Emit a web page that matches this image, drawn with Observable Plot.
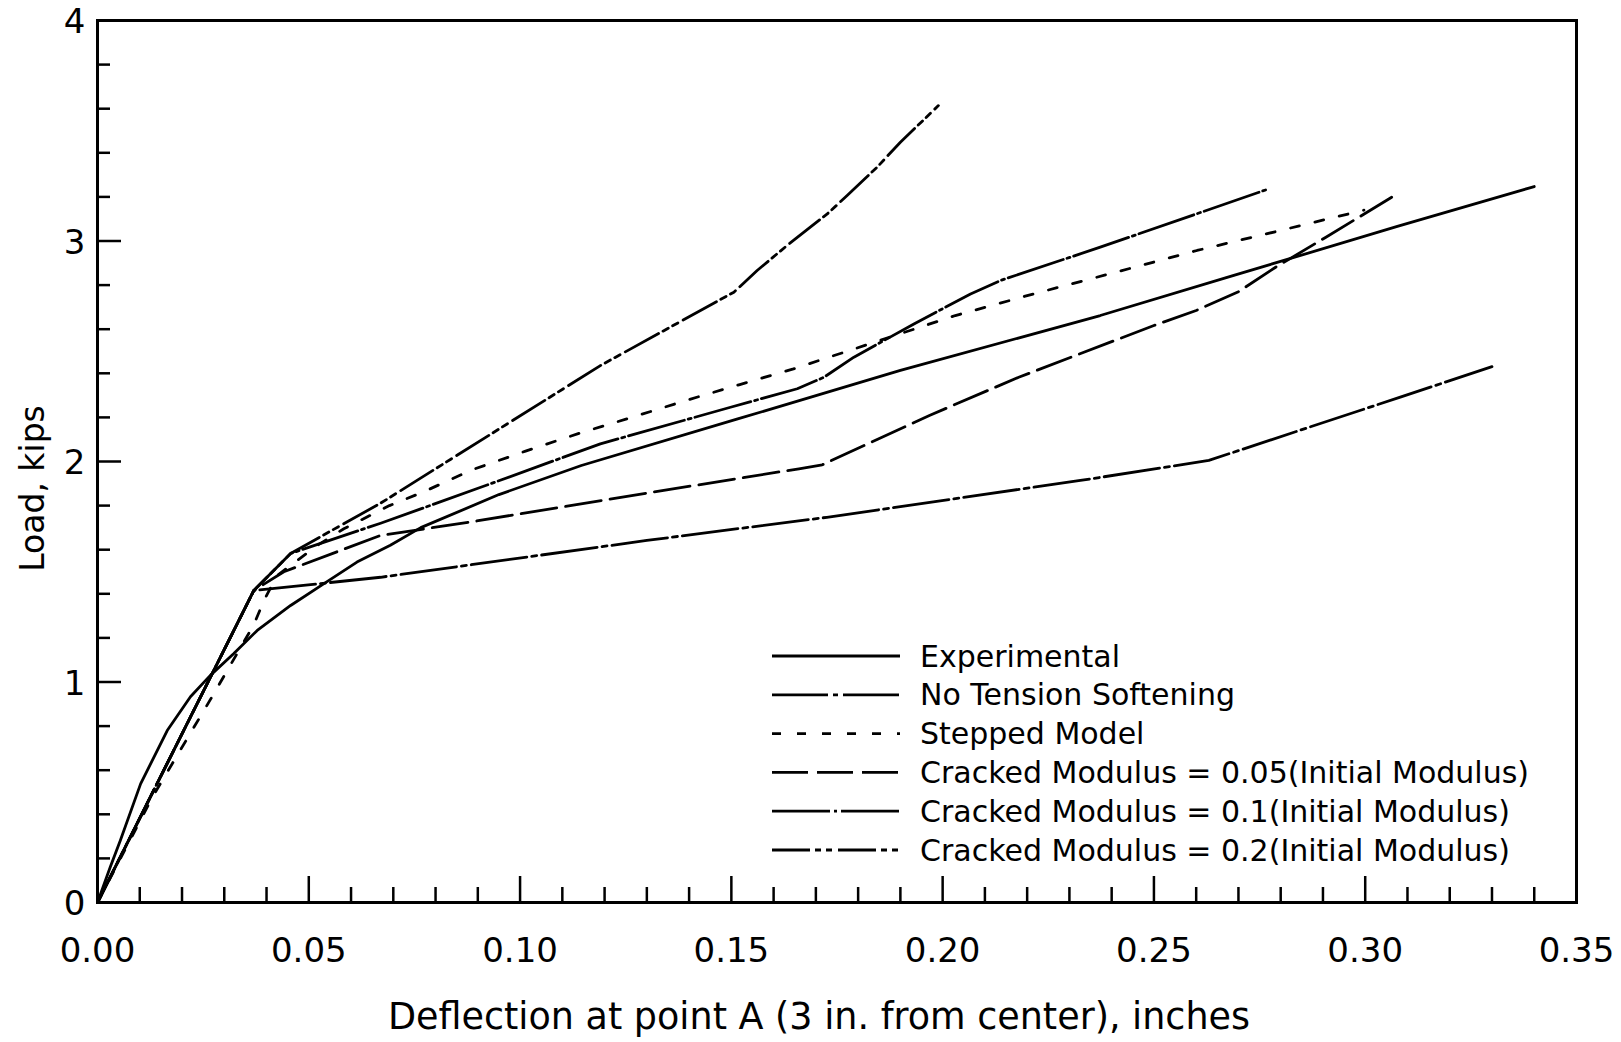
<!DOCTYPE html>
<html>
<head>
<meta charset="utf-8">
<script src="https://cdn.jsdelivr.net/npm/d3@7"></script>
<script src="https://cdn.jsdelivr.net/npm/@observablehq/plot@0.6"></script>
<style>
  html, body { margin: 0; padding: 0; background: #fff; }
  svg { display: block; }
</style>
</head>
<body>
<div id="chart"></div>
<script>
// ---------------- data ----------------
const seriesNames = [
  "Experimental",
  "No Tension Softening",
  "Stepped Model",
  "Cracked Modulus = 0.05(Initial Modulus)",
  "Cracked Modulus = 0.1(Initial Modulus)",
  "Cracked Modulus = 0.2(Initial Modulus)"
];

const experimentalX = [0, 0.003, 0.0054, 0.0102, 0.0165, 0.022, 0.0267, 0.0322, 0.0378, 0.0457, 0.0536, 0.0614, 0.0693, 0.0765, 0.095, 0.1145, 0.1515, 0.19, 0.2373, 0.2689, 0.3076, 0.34];
const experimentalY = [0, 0.16, 0.281, 0.538, 0.78, 0.933, 1.03, 1.128, 1.234, 1.347, 1.446, 1.544, 1.62, 1.70, 1.85, 1.982, 2.193, 2.413, 2.662, 2.844, 3.066, 3.247];

const noTensionX = [0, 0.037, 0.067, 0.13, 0.1726, 0.2326, 0.263, 0.3083, 0.33];
const noTensionY = [0, 1.415, 1.475, 1.642, 1.747, 1.914, 2.005, 2.292, 2.43];

const steppedX = [0, 0.013, 0.0267, 0.037, 0.0394, 0.0425, 0.052, 0.0583, 0.0691, 0.077, 0.0886, 0.1013, 0.114, 0.1266, 0.1393, 0.152, 0.1647, 0.1774, 0.203, 0.2215, 0.2405, 0.2602, 0.28, 0.2997];
const steppedY = [0, 0.478, 0.92, 1.26, 1.37, 1.483, 1.619, 1.695, 1.80, 1.861, 1.962, 2.047, 2.128, 2.201, 2.277, 2.349, 2.42, 2.50, 2.662, 2.76, 2.856, 2.957, 3.048, 3.14];

const cracked005X = [0, 0.037, 0.0441, 0.067, 0.0881, 0.1304, 0.166, 0.1715, 0.197, 0.218, 0.25, 0.26, 0.27, 0.2788, 0.2907, 0.3076];
const cracked005Y = [0, 1.415, 1.50, 1.665, 1.725, 1.858, 1.967, 1.985, 2.21, 2.382, 2.617, 2.685, 2.77, 2.881, 3.017, 3.214];

const cracked01X = [0, 0.037, 0.0457, 0.067, 0.0907, 0.119, 0.1498, 0.1656, 0.1719, 0.179, 0.1932, 0.2066, 0.2137, 0.2373, 0.2765];
const cracked01Y = [0, 1.415, 1.583, 1.720, 1.883, 2.08, 2.246, 2.33, 2.382, 2.473, 2.624, 2.76, 2.821, 2.972, 3.232];

const cracked02X = [0, 0.037, 0.0457, 0.067, 0.119, 0.1506, 0.1561, 0.1632, 0.1727, 0.1774, 0.1845, 0.19, 0.199];
const cracked02Y = [0, 1.415, 1.583, 1.811, 2.435, 2.768, 2.866, 2.98, 3.123, 3.206, 3.335, 3.448, 3.614];

const xTickValues = [0, 0.05, 0.10, 0.15, 0.20, 0.25, 0.30, 0.35];
const xTickLabels = ["0.00", "0.05", "0.10", "0.15", "0.20", "0.25", "0.30", "0.35"];
const yTickValues = [0, 1, 2, 3, 4];
const yTickLabels = ["0", "1", "2", "3", "4"];

const xTitle = "Deflection at point A (3 in. from center), inches";
const yTitle = "Load, kips";

// ---------------- styles ----------------
const dashes = [
  null,              // solid
  "56,5,5,5",        // long dash + dot
  "9,16",            // short dashes
  "36,9",            // long dashes
  "58,4,3,4",        // very long dash + dot
  "38,5,6,5,6,6"     // long dash + two short
];

const seriesX = [experimentalX, noTensionX, steppedX, cracked005X, cracked01X, cracked02X];
const seriesY = [experimentalY, noTensionY, steppedY, cracked005Y, cracked01Y, cracked02Y];

const rows = seriesNames.flatMap((name, k) =>
  seriesX[k].map((x, i) => ({series: name, x, y: seriesY[k][i]})));

const W = 1621, H = 1042;
const mL = 97, mR = 45, mT = 20, mB = 140;
const plotW = W - mL - mR, plotH = H - mT - mB;
const FONT = "DejaVu Sans";
const LW = 2.8;

const xMinor = d3.range(1, 35).filter(i => i % 5 !== 0).map(i => i / 100);
const xMajor = xTickValues.slice(1, -1);
const yMinor = d3.range(1, 20).filter(i => i % 5 !== 0).map(i => i / 5);
const yMajor = yTickValues.slice(1, -1);

const lineMarks = seriesNames.map((name, k) =>
  Plot.line(rows.filter(r => r.series === name), {
    x: "x", y: "y", stroke: "black", strokeWidth: LW,
    strokeDasharray: dashes[k] || undefined, strokeLinejoin: "round"
  }));

const chart = Plot.plot({
  width: W, height: H,
  marginLeft: mL, marginRight: mR, marginTop: mT, marginBottom: mB,
  style: {fontFamily: FONT, background: "white", color: "black"},
  x: {domain: [0, 0.35], axis: null},
  y: {domain: [0, 4], axis: null},
  marks: [
    ...lineMarks,
    Plot.ruleX(xMinor, {x: d => d, insetTop: plotH - 15, stroke: "black", strokeWidth: 2.5}),
    Plot.ruleX(xMajor, {x: d => d, insetTop: plotH - 26, stroke: "black", strokeWidth: 2.5}),
    Plot.ruleY(yMinor, {y: d => d, insetRight: plotW - 13, stroke: "black", strokeWidth: 2.5}),
    Plot.ruleY(yMajor, {y: d => d, insetRight: plotW - 24, stroke: "black", strokeWidth: 2.5}),
    Plot.frame({stroke: "black", strokeWidth: 3}),
    Plot.text(xTickValues, {x: d => d, y: 0, dy: 49, text: (d, i) => xTickLabels[i],
      fontSize: 34, fontFamily: FONT, fill: "black"}),
    Plot.text(yTickValues, {x: 0, y: d => d, dx: -12, dy: 2, textAnchor: "end",
      text: (d, i) => yTickLabels[i], fontSize: 34, fontFamily: FONT, fill: "black"}),
    Plot.text([xTitle], {frameAnchor: "bottom", textAnchor: "middle", lineAnchor: "middle",
      dx: -18, dy: 115, text: d => d,
      fontSize: 36.5, fontFamily: FONT, fill: "black"}),
    Plot.text([yTitle], {frameAnchor: "left", textAnchor: "middle", lineAnchor: "middle",
      dx: -64, dy: 27, rotate: -90, text: d => d,
      fontSize: 33, fontFamily: FONT, fill: "black"})
  ]
});

// ---------------- legend (inside plot) ----------------
const svg = d3.select(chart);
const lg = svg.append("g").attr("class", "legend").attr("text-anchor", "start");
seriesNames.forEach((name, k) => {
  const y = 656 + k * 38.8;
  const ln = lg.append("line")
    .attr("x1", 772).attr("x2", 900).attr("y1", y).attr("y2", y)
    .attr("stroke", "black").attr("stroke-width", LW);
  if (dashes[k]) ln.attr("stroke-dasharray", dashes[k]);
  lg.append("text")
    .attr("x", 920).attr("y", y + 10.5)
    .attr("text-anchor", "start")
    .attr("font-family", FONT).attr("font-size", 30).attr("fill", "black")
    .text(name);
});

document.getElementById("chart").appendChild(chart);
</script>
</body>
</html>
